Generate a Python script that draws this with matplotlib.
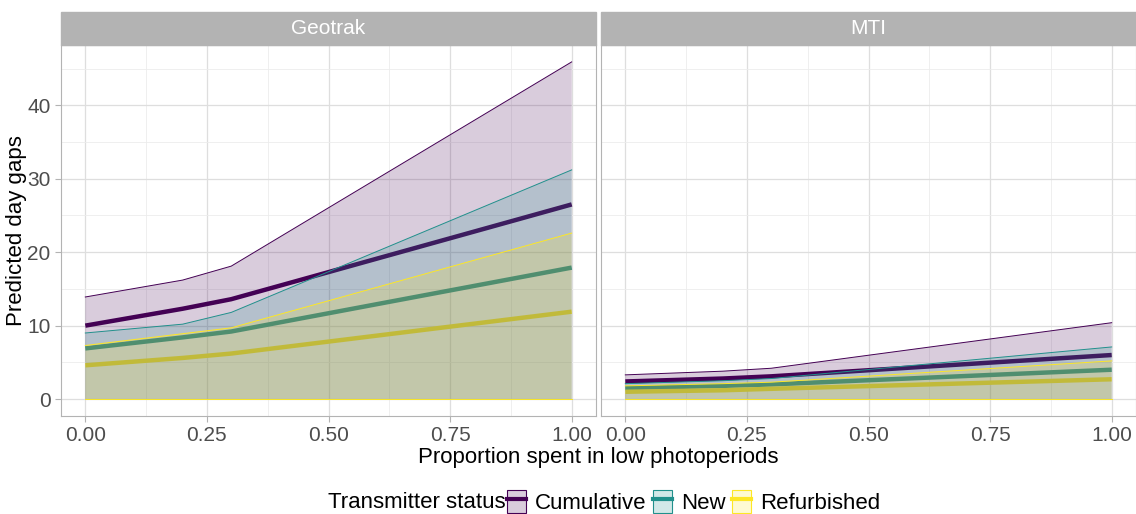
import numpy as np
import matplotlib.pyplot as plt
from matplotlib.patches import Rectangle, Patch
from matplotlib.lines import Line2D

plt.rcParams['font.family'] = ['Liberation Sans', 'DejaVu Sans']

# proportion spent in low photoperiods
x = [0.0, 0.2, 0.3, 1.0]
panels = ['Geotrak', 'MTI']
status = ['Cumulative', 'New', 'Refurbished']
colors = {'Cumulative': '#440154', 'New': '#21908C', 'Refurbished': '#FDE725'}

# predicted values (fit) and upper bound of ribbon, lower bound is 0
fit = {
    'Geotrak': {
        'Cumulative': [10.0, 12.3, 13.6, 26.5],
        'New': [6.9, 8.4, 9.2, 17.9],
        'Refurbished': [4.6, 5.6, 6.2, 11.9],
    },
    'MTI': {
        'Cumulative': [2.4, 2.8, 3.1, 6.0],
        'New': [1.5, 1.8, 2.0, 4.0],
        'Refurbished': [1.0, 1.2, 1.4, 2.7],
    },
}
upper = {
    'Geotrak': {
        'Cumulative': [13.9, 16.2, 18.1, 45.9],
        'New': [9.0, 10.2, 11.8, 31.2],
        'Refurbished': [7.3, 8.9, 9.7, 22.6],
    },
    'MTI': {
        'Cumulative': [3.3, 3.8, 4.2, 10.4],
        'New': [2.1, 2.5, 2.8, 7.1],
        'Refurbished': [1.8, 2.1, 2.3, 5.2],
    },
}
lower = [0.0, 0.0, 0.0, 0.0]

fig = plt.figure(figsize=(11.36, 5.14), dpi=100)
ax1 = fig.add_axes([61/1136, 98/514, 535/1136, 371/514])
ax2 = fig.add_axes([601/1136, 98/514, 535/1136, 371/514], sharey=ax1)

for ax, p in zip([ax1, ax2], panels):
    for s in status:
        ax.plot(x, fit[p][s], color=colors[s], lw=3.2, zorder=2, solid_capstyle='butt')
    for s in status:
        ax.fill_between(x, lower, upper[p][s], facecolor=colors[s], alpha=0.2,
                        edgecolor='none', zorder=3)
        ax.plot(x, upper[p][s], color=colors[s], lw=0.7, zorder=3.5)
        ax.plot(x, lower, color=colors[s], lw=0.7, zorder=3.5)
    ax.set_xlim(-0.05, 1.05)
    ax.set_ylim(-2.3, 48.2)
    ax.set_xticks([0, 0.25, 0.5, 0.75, 1.0])
    ax.set_xticklabels(['0.00', '0.25', '0.50', '0.75', '1.00'])
    ax.set_xticks([0.125, 0.375, 0.625, 0.875], minor=True)
    ax.set_yticks([0, 10, 20, 30, 40])
    ax.set_yticks([5, 15, 25, 35, 45], minor=True)
    ax.grid(which='major', color='#dedede', lw=0.9)
    ax.grid(which='minor', color='#ececec', lw=0.6)
    ax.set_axisbelow(True)
    for sp in ax.spines.values():
        sp.set_color('#b3b3b3')
        sp.set_linewidth(0.8)
    ax.tick_params(which='major', colors='#b3b3b3', labelcolor='#4d4d4d',
                   labelsize=15, length=4, width=0.8)
    ax.tick_params(which='minor', length=0)
    # facet strip
    ax.add_patch(Rectangle((0, 1.0), 1, 33/371, transform=ax.transAxes,
                           facecolor='#b3b3b3', edgecolor='#b3b3b3', clip_on=False))
    ax.text(0.5, 1.0 + 16.5/371, p, transform=ax.transAxes, ha='center', va='center',
            color='white', fontsize=15)

ax2.tick_params(axis='y', which='both', left=False, labelleft=False)
ax1.set_ylabel('Predicted day gaps', fontsize=16)
ax1.yaxis.set_label_coords(-34/535, 0.5)
fig.text(598/1136, 1 - 458/514, 'Proportion spent in low photoperiods', ha='center',
         va='center', fontsize=16)

handles = []
for s in status:
    handles.append((Patch(facecolor=colors[s], alpha=0.2, edgecolor='none'),
                    Patch(facecolor='none', edgecolor=colors[s], lw=0.8),
                    Line2D([0], [0], color=colors[s], lw=3)))
fig.text(328/1136, 1 - 502/514, 'Transmitter status', ha='left', va='center', fontsize=16)
fig.legend(handles, status, loc='center left', bbox_to_anchor=(507/1136, 1 - 502/514),
           ncol=3, frameon=False, fontsize=16, handlelength=0.85, handleheight=1.2,
           handletextpad=0.4, columnspacing=0.3, borderaxespad=0, borderpad=0)

fig.savefig('out.png', dpi=100)
